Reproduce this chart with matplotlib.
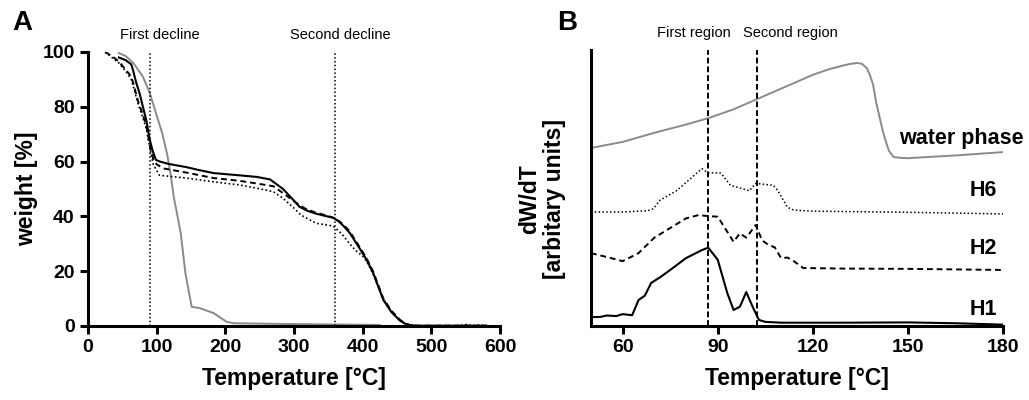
import matplotlib
matplotlib.use("Agg")
import matplotlib.pyplot as plt

plt.rcParams['font.family'] = ['Liberation Sans', 'DejaVu Sans']

# ---------------- Panel A data (TGA weight curves) ----------------
h1_T = [45, 55, 63, 66, 70, 75, 80, 85, 90, 94, 99, 105, 115, 125, 143, 160, 183, 220, 246,
        265, 284, 299, 308, 320, 332, 345, 357, 365, 372, 381, 390, 400, 406, 415, 430,
        442, 454, 462, 469, 480, 520, 580]
h1_W = [98, 97, 95.5, 93, 89, 85, 80, 75, 68, 64, 60.6, 60, 59.3, 58.8, 58, 57, 55.8, 55, 54.4,
        53.5, 50, 46, 43.5, 42, 41, 40.2, 39.5, 38.2, 36.5, 34, 30.5, 26.5, 24, 19.5, 9.5,
        5, 2, 0.8, 0.3, 0.1, 0.1, 0.1]

h2_T = [25, 35, 45, 55, 63, 66, 73, 80, 85, 90, 95, 100, 110, 143, 183, 220, 246, 270, 284,
        300, 315, 330, 345, 360, 372, 381, 390, 400, 406, 415, 430, 442, 454, 462, 469,
        480, 520, 580]
h2_W = [100, 98.5, 96.5, 93.5, 91, 88.5, 82, 77, 73, 66, 61, 59, 57.5, 56, 54, 53, 52, 51, 48.5,
        45.5, 43, 41.5, 40.5, 39.3, 37, 34.5, 31, 27, 24.5, 20, 10, 5.5, 2.3, 0.9, 0.3,
        0.1, 0.1, 0.1]

h6_T = [25, 35, 45, 55, 63, 66, 73, 80, 85, 90, 95, 104, 143, 183, 220, 246, 270, 284, 300,
        310, 332, 357, 370, 381, 390, 400, 406, 415, 430, 442, 454, 462, 469, 480, 540,
        550, 560, 570, 580]
h6_W = [100, 98, 96, 93, 90, 87.5, 81, 76, 72, 65, 59, 55, 54, 52.6, 51.5, 50.3, 49, 46.6, 43,
        40.5, 37.5, 36.5, 33.5, 30, 27.5, 25.5, 23.5, 19, 9.8, 5.3, 2.2, 0.9, 0.3, 0.1, 0.1,
        0.5, 0.1, 0.4, 0.1]

wp_T = [45, 55, 66, 80, 90, 99, 108, 115, 120, 125, 135, 142, 151, 163, 183, 202, 212, 300, 425]
wp_W = [99.6, 98.5, 96, 91, 85, 77.7, 70.4, 63, 55.8, 47, 34, 19, 7, 6.5, 4.7, 1.5, 1, 0.7, 0.4]

decline_T = [90, 360]
decline_labels = ["First decline", "Second decline"]

# ---------------- Panel B data (dW/dT, arbitrary units) ----------------
wpB_T = [50, 60, 70, 80, 87, 95, 102, 110, 120, 125, 130, 132, 134, 135.5, 137, 138, 139,
         140, 141, 142, 143, 144, 145.5, 148, 150, 165, 180]
wpB_Y = [64.5, 66.7, 70, 73, 75.3, 78.5, 82, 86, 91, 93, 94.5, 95, 95.3, 95, 93.5, 91, 87.5,
         81, 76, 71, 67, 63.5, 61.2, 60.9, 60.8, 61.8, 63]

h6B_T = [50, 60, 68, 69.7, 71.8, 77, 81, 85, 87, 88, 91, 94, 97, 100, 102, 104, 107.5, 109,
         110.7, 112, 114, 120, 150, 180]
h6B_Y = [41.3, 41.3, 41.8, 42.5, 45.6, 49, 53, 57, 55.4, 55.5, 55.4, 51, 50, 49, 51.7, 51.4, 51,
         49, 45.6, 43, 42, 41.6, 41.2, 40.6]

h2B_T = [50, 55, 60, 65, 70, 75, 80, 84, 87, 90, 92, 95, 97, 99, 102, 104, 106, 108, 110,
         112, 114, 117, 130, 150, 180]
h2B_Y = [26.4, 25, 23.5, 26.4, 32, 35.5, 39, 40.2, 39.8, 39.6, 36, 30.5, 33.6, 32, 36.6, 31,
         29.4, 28.5, 24.6, 24.8, 23.5, 21, 20.8, 20.7, 20.3]

h1B_T = [50, 53, 55, 58, 60, 63, 65, 67, 69, 72, 75, 80, 85, 87, 90, 93, 95, 97, 99, 101,
         103, 105, 110, 130, 150, 165, 180]
h1B_Y = [3.2, 3.3, 3.8, 3.6, 4.3, 3.9, 9.4, 11, 15.6, 17.8, 20.3, 24.6, 27.5, 28.4, 24, 12,
         5.8, 7, 12.3, 7, 2.2, 1.5, 1.2, 1.2, 1.3, 1.0, 0.5]

region_T = [87, 102.4]
region_labels = ["First region", "Second region"]

curve_labels = ["water phase", "H6", "H2", "H1"]
curve_label_y = [68, 49, 28, 6]
curve_label_x = [186.5, 178, 178, 178]

xticksA = [0, 100, 200, 300, 400, 500, 600]
yticksA = [0, 20, 40, 60, 80, 100]
xticksB = [60, 90, 120, 150, 180]

GRAY = "#8a8a8a"
fig = plt.figure(figsize=(10.29, 4.0), dpi=100)

axA = fig.add_axes([0.0855, 0.185, 0.4005, 0.685])
axB = fig.add_axes([0.5743, 0.185, 0.4004, 0.69])

for ax in (axA, axB):
    for s in ("top", "right"):
        ax.spines[s].set_visible(False)
    for s in ("left", "bottom"):
        ax.spines[s].set_linewidth(2.2)
    ax.tick_params(width=2.2, length=6, labelsize=14)

# Panel A
axA.plot(wp_T, wp_W, color=GRAY, lw=1.4)
axA.plot(h6_T, h6_W, color="black", lw=1.2, ls=(0, (1, 1.5)))
axA.plot(h2_T, h2_W, color="black", lw=1.4, ls=(0, (3, 2)))
axA.plot(h1_T, h1_W, color="black", lw=1.5, ls="-")
for t in decline_T:
    axA.axvline(t, ymin=0, ymax=1.0, color="black", lw=1.1, ls=(0, (1, 1.5)))
axA.text(decline_T[0] + 15, 103.5, decline_labels[0], ha="center", va="bottom", fontsize=10.5)
axA.text(decline_T[1] + 7, 103.5, decline_labels[1], ha="center", va="bottom", fontsize=10.5)
axA.set_xlim(0, 600)
axA.set_ylim(0, 100)
axA.set_xticks(xticksA)
axA.set_yticks(yticksA)
axA.set_xticklabels([str(v) for v in xticksA], fontweight="bold")
axA.set_yticklabels([str(v) for v in yticksA], fontweight="bold")
axA.set_xlabel("Temperature [°C]", fontsize=16.5, fontweight="bold", labelpad=8)
axA.set_ylabel("weight [%]", fontsize=16.5, fontweight="bold", labelpad=3)

# Panel B
axB.plot(wpB_T, wpB_Y, color=GRAY, lw=1.4)
axB.plot(h6B_T, h6B_Y, color="black", lw=1.1, ls=(0, (1, 1.5)))
axB.plot(h2B_T, h2B_Y, color="black", lw=1.4, ls=(0, (3, 2)))
axB.plot(h1B_T, h1B_Y, color="black", lw=1.5, ls="-")
for t in region_T:
    axB.axvline(t, ymin=0, ymax=1.0, color="black", lw=1.4, ls=(0, (3, 1.5)))
axB.text(region_T[0] - 4.5, 103.5, region_labels[0], ha="center", va="bottom", fontsize=10.5)
axB.text(region_T[1] + 10.4, 103.5, region_labels[1], ha="center", va="bottom", fontsize=10.5)
for lab, x, y in zip(curve_labels, curve_label_x, curve_label_y):
    axB.text(x, y, lab, ha="right", va="center", fontsize=15.5, fontweight="bold", clip_on=False)
axB.set_xlim(50, 180)
axB.set_ylim(0, 100)
axB.set_xticks(xticksB)
axB.set_xticklabels([str(v) for v in xticksB], fontweight="bold")
axB.set_yticks([])
axB.set_xlabel("Temperature [°C]", fontsize=16.5, fontweight="bold", labelpad=8)
axB.set_ylabel("dW/dT\n[arbitary units]", fontsize=16.5, fontweight="bold",
               linespacing=1.1)
axB.yaxis.set_label_coords(-0.06, 0.46)

fig.text(0.012, 0.9425, "A", fontsize=20, fontweight="bold", va="center", ha="left")
fig.text(0.541, 0.9425, "B", fontsize=20, fontweight="bold", va="center", ha="left")

fig.savefig("out.png", dpi=100)
